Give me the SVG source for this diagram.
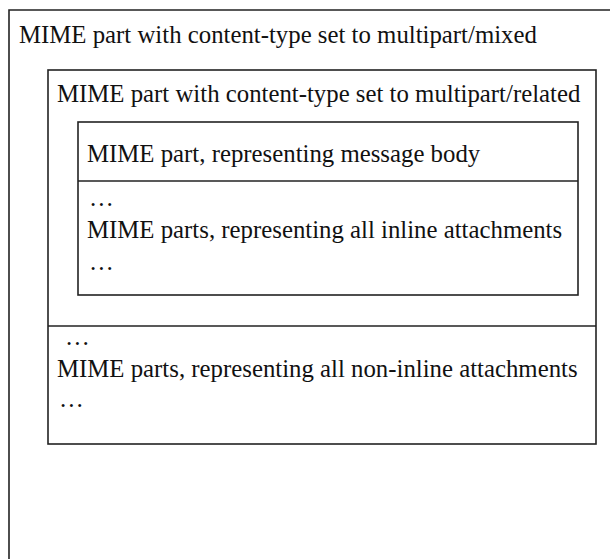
<svg xmlns="http://www.w3.org/2000/svg" width="610" height="559" viewBox="0 0 610 559">
<style>
.box{fill:none;stroke:#222;stroke-width:1.6}
.t{font-family:"Liberation Serif","Times New Roman",serif;font-size:24.8px;fill:#111}
</style>
<rect width="610" height="559" fill="#fff"/>
<g id="mixed">
<path class="box" d="M9,559 V10 H610"/>
<text class="t" x="19" y="43">MIME part with content-type set to multipart/mixed</text>
</g>
<g id="related">
<rect class="box" x="48" y="70" width="548" height="374"/>
<text class="t" x="57" y="102">MIME part with content-type set to multipart/related</text>
</g>
<g id="inner">
<rect class="box" x="78" y="122" width="500" height="173"/>
<line class="box" x1="78" y1="181" x2="578" y2="181"/>
<text class="t" x="87" y="162">MIME part, representing message body</text>
<text class="t" x="89" y="206">…</text>
<text class="t" x="87" y="238">MIME parts, representing all inline attachments</text>
<text class="t" x="89" y="270">…</text>
</g>
<g id="noninline">
<line class="box" x1="48" y1="326" x2="596" y2="326"/>
<text class="t" x="65" y="345">…</text>
<text class="t" x="57" y="377">MIME parts, representing all non-inline attachments</text>
<text class="t" x="59" y="407">…</text>
</g>
<g id="connectors"/>
</svg>
